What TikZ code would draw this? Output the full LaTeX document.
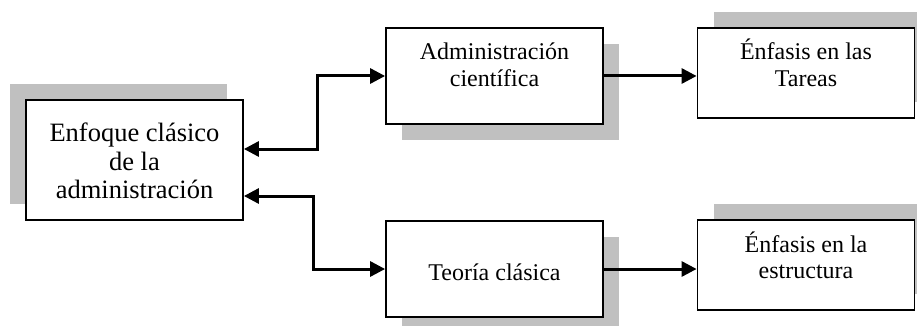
\documentclass[tikz,border=0pt]{standalone}
\usepackage{fontspec}
\setmainfont{Liberation Serif}
\usetikzlibrary{arrows.meta,shadows}
\definecolor{sombra}{HTML}{C0C0C0}
\newcommand{\texto}[3]{\parbox[c][#1][t]{217pt}{\centering\rule{0pt}{#2}#3}}

\begin{document}
\begin{tikzpicture}[x=1pt,y=-1pt,
    caja/.style={draw,line width=1.8pt,fill=white,inner sep=0pt,font=\fontsize{24}{26.7}\selectfont},
    sombraiz/.style={general shadow={fill=sombra,shadow xshift=-16pt,shadow yshift=16pt}},
    sombrade/.style={general shadow={fill=sombra,shadow xshift=16pt,shadow yshift=-16pt}},
    sombrasu/.style={general shadow={fill=sombra,shadow xshift=16pt,shadow yshift=16pt}},
    conector/.style={line width=3pt,-{Triangle[length=15pt,width=15pt]}},
    doble/.style={line width=3pt,{Triangle[length=15pt,width=15pt]}-{Triangle[length=15pt,width=15pt]}}]
    \useasboundingbox (0,0) rectangle (917,326);
    \node[caja,sombraiz,font=\fontsize{26.5}{28.3}\selectfont](enfoque) at (134.5,160)
        {\texto{120pt}{41.7pt}{Enfoque clásico\\de la\\administración}};
    \node[caja,sombrade](cientifica) at (494.5,76)
        {\texto{96pt}{32pt}{Administración\\científica}};
    \node[caja,sombrade](teoria) at (494.5,269)
        {\texto{96pt}{59pt}{Teoría clásica}};
    \node[caja,sombrasu](tareas) at (806,73)
        {\texto{90pt}{32pt}{Énfasis en las\\Tareas}};
    \node[caja,sombrasu](estructura) at (806,265)
        {\texto{90pt}{32pt}{Énfasis en la\\estructura}};
    % ramas desde el enfoque clasico
    \draw[doble] ([yshift=11pt]enfoque.east) -- ++(74,0) |- (cientifica.west);
    \draw[doble] ([yshift=-36pt]enfoque.east) -- ++(70,0) |- (teoria.west);
    \draw[conector] (cientifica.east) -- (cientifica.east -| tareas.west);
    \draw[conector] (teoria.east) -- (teoria.east -| estructura.west);
\end{tikzpicture}
\end{document}
